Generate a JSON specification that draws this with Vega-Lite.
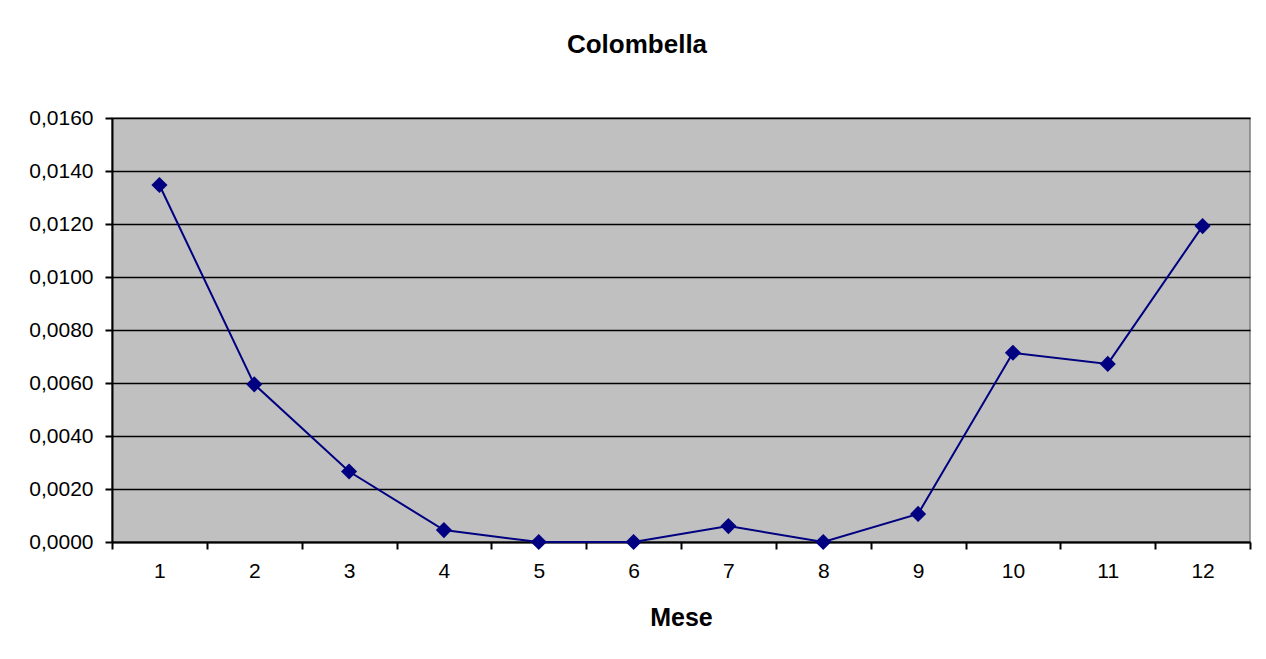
{
  "$schema": "https://vega.github.io/schema/vega-lite/v6.json",
  "autosize": {"type": "none"},
  "width": 1138,
  "height": 424,
  "padding": {"left": 112, "top": 118, "right": 16, "bottom": 117},
  "background": "white",
  "title": {
    "text": "Colombella",
    "font": "Liberation Sans",
    "fontSize": 26,
    "fontWeight": "bold",
    "color": "black",
    "anchor": "middle",
    "dx": -44,
    "offset": 49
  },
  "data": {
    "values": [
      {"Mese": 1, "Valore": 0.01347},
      {"Mese": 2, "Valore": 0.00595},
      {"Mese": 3, "Valore": 0.00266},
      {"Mese": 4, "Valore": 0.00045},
      {"Mese": 5, "Valore": 0},
      {"Mese": 6, "Valore": 0},
      {"Mese": 7, "Valore": 0.0006},
      {"Mese": 8, "Valore": 0},
      {"Mese": 9, "Valore": 0.00106},
      {"Mese": 10, "Valore": 0.00714},
      {"Mese": 11, "Valore": 0.00672},
      {"Mese": 12, "Valore": 0.01192}
    ]
  },
  "mark": {
    "type": "line",
    "color": "#000080",
    "strokeWidth": 2,
    "point": {"shape": "diamond", "size": 260, "filled": true, "color": "#000080", "opacity": 1}
  },
  "encoding": {
    "x": {
      "field": "Mese",
      "type": "ordinal",
      "bandPosition": 0.5,
      "scale": {"type": "band", "paddingInner": 0, "paddingOuter": 0},
      "axis": {
        "title": "Mese",
        "titleFont": "Liberation Sans",
        "titleFontSize": 25,
        "titleFontWeight": "bold",
        "titleColor": "black",
        "titlePadding": 24,
        "labelAngle": 0,
        "labelFont": "Liberation Sans",
        "labelFontSize": 21,
        "labelColor": "black",
        "labelPadding": 11,
        "tickBand": "extent",
        "tickColor": "black",
        "tickSize": 7,
        "tickWidth": 2,
        "domainColor": "black",
        "domainWidth": 2,
        "grid": false
      }
    },
    "y": {
      "field": "Valore",
      "type": "quantitative",
      "scale": {"domain": [0, 0.016], "nice": false, "zero": true},
      "axis": {
        "title": null,
        "values": [0, 0.002, 0.004, 0.006, 0.008, 0.01, 0.012, 0.014, 0.016],
        "format": ".4f",
        "labelFont": "Liberation Sans",
        "labelFontSize": 21,
        "labelColor": "black",
        "labelPadding": 12,
        "tickColor": "black",
        "tickSize": 7,
        "tickWidth": 2,
        "domainColor": "black",
        "domainWidth": 2,
        "grid": true,
        "gridColor": "black",
        "gridWidth": 1.5,
        "gridOpacity": 1
      }
    }
  },
  "config": {
    "locale": {"number": {"decimal": ",", "thousands": ".", "grouping": [3], "currency": ["", " €"]}},
    "view": {"fill": "#C0C0C0", "stroke": "#808080", "strokeWidth": 1.5}
  }
}
